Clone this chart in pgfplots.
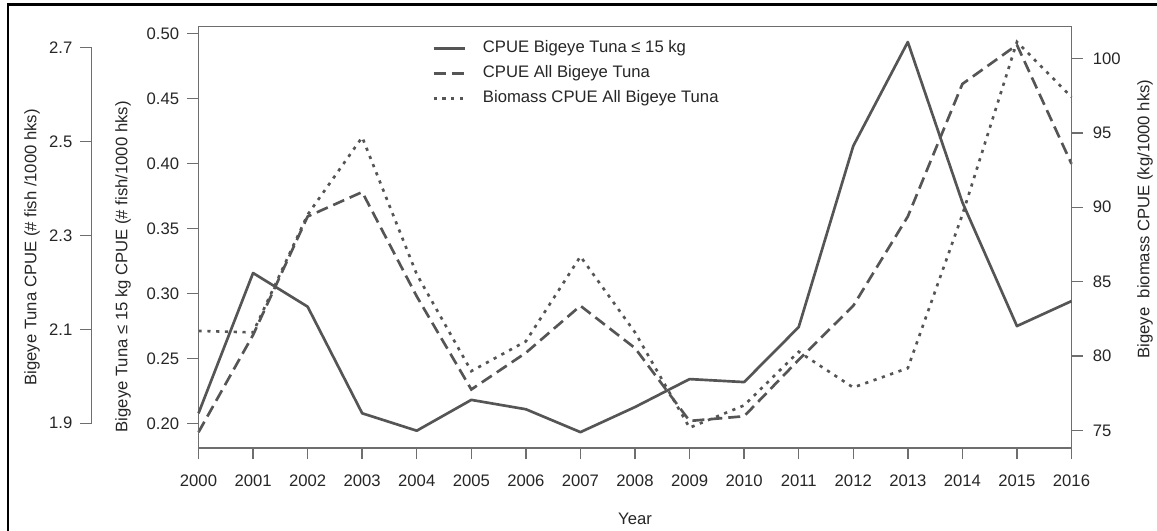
\documentclass[border=0pt]{standalone}
\usepackage{fontspec}
\setmainfont{Liberation Sans}
\usepackage{pgfplots}
\pgfplotsset{compat=1.18}
\definecolor{ln}{HTML}{555555}
\definecolor{ax}{HTML}{6E6E6E}
\definecolor{tx}{HTML}{262626}

\pgfplotstableread{
year small all biomass
2000 0.2077 1.881 81.7
2001 0.3156 2.088 81.6
2002 0.2897 2.340 89.5
2003 0.2077 2.392 94.7
2004 0.1943 2.170 85.5
2005 0.2180 1.972 79.0
2006 0.2108 2.050 81.0
2007 0.1932 2.150 86.7
2008 0.2125 2.060 81.6
2009 0.2340 1.905 75.2
2010 0.2317 1.915 76.7
2011 0.2740 2.035 80.3
2012 0.4133 2.150 77.9
2013 0.4933 2.340 79.2
2014 0.3700 2.622 89.5
2015 0.2748 2.705 101.1
2016 0.2940 2.452 97.4
}\datatable

\pgfplotsset{
  base/.style={
    scale only axis,
    width=654.75pt, height=315.975pt,
    at={(148.875pt,62.25pt)}, anchor=south west,
    xmin=2000, xmax=2016,
    tick align=outside,
    major tick length=8.5pt,
    axis line style={ax, line width=1.1pt},
    every tick/.style={ax, line width=1.1pt},
    ticklabel style={font=\fontsize{12.5}{15}\selectfont, text=tx},
    label style={font=\fontsize{12.5}{15}\selectfont, text=tx},
    /pgf/number format/assume math mode=true,
    clip=false,
  },
  solidl/.style={ln, line width=2pt, line join=round},
  dashedl/.style={ln, line width=2pt, dash pattern=on 9pt off 4.5pt},
  dottedl/.style={ln, line width=2pt, dash pattern=on 2.4pt off 4.2pt},
}

\begin{document}
\begin{tikzpicture}
\useasboundingbox (0,0) rectangle (867.75pt,398.25pt);
\draw[line width=1.7pt, black] (6.2pt,0pt) -- (6.2pt,394.9pt) -- (867.75pt,394.9pt);

% outer left axis (all bigeye, scale only)
\begin{axis}[
  scale only axis, width=10pt, height=282pt,
  at={(68.78pt,80.8pt)}, anchor=south west,
  xmin=0, xmax=1, ymin=1.9, ymax=2.7,
  axis y line*=left, axis x line=none,
  tick align=outside, major tick length=8.5pt,
  axis line style={ax, line width=1.1pt},
  every tick/.style={ax, line width=1.1pt},
  ticklabel style={font=\fontsize{12.5}{15}\selectfont, text=tx},
  yticklabel style={xshift=-2.5pt},
  /pgf/number format/assume math mode=true,
  ytick={1.9,2.1,2.3,2.5,2.7},
  yticklabels={1.9,2.1,2.3,2.5,2.7},
  ylabel={Bigeye Tuna CPUE (\# fish /1000 hks)},
  ylabel style={font=\fontsize{12.5}{15}\selectfont, text=tx, at={(axis description cs:-4.48,0.468)}, anchor=center},
]
\end{axis}

% dashed series in the main box with the outer axis scale
\begin{axis}[base, ymin=1.84745, ymax=2.74383, hide axis]
\addplot[dashedl] table[x=year, y=all] {\datatable};
\end{axis}

% right axis with biomass
\begin{axis}[base, ymin=73.839, ymax=102.121,
  axis y line*=right, axis x line=none,
  ytick={75,80,85,90,95,100},
  yticklabel style={xshift=4pt},
  ylabel={Bigeye\ \ biomass CPUE (kg/1000 hks)},
  ylabel style={at={(axis description cs:1.0842,0.5435)}, anchor=center},
]
\addplot[dottedl] table[x=year, y=biomass] {\datatable};
\end{axis}

% main axis: inner left, box, x axis, solid line, legend
\begin{axis}[base, ymin=0.181, ymax=0.50508,
  xtick={2000,2001,...,2016},
  xticklabel style={/pgf/number format/1000 sep=, yshift=-8pt},
  yticklabel style={xshift=-2.5pt},
  xtick pos=bottom, ytick pos=left,
  ytick={0.20,0.25,0.30,0.35,0.40,0.45,0.50},
  yticklabels={0.20,0.25,0.30,0.35,0.40,0.45,0.50},
  xlabel={Year},
  xlabel style={at={(axis description cs:0.5,-0.168)}, anchor=center, inner sep=0pt},
  ylabel={Bigeye Tuna ≤ 15 kg CPUE (\# fish/1000 hks)},
  ylabel style={at={(axis description cs:-0.0865,0.43)}, anchor=center},
  legend style={at={(axis description cs:0.2675,0.9685)}, anchor=north west,
    draw=none, fill=none, inner sep=0pt, column sep=12.75pt, row sep=6.75pt,
    font=\fontsize{12.5}{15}\selectfont, text=tx,
    nodes={inner sep=0pt, text height=9pt, text depth=3pt}},
  legend cell align=left,
  legend image code/.code={\draw[#1] (0pt,0pt) -- (23.25pt,0pt);},
]
\addplot[solidl] table[x=year, y=small] {\datatable};
\addlegendentry{CPUE Bigeye Tuna ≤ 15 kg}
\addlegendimage{dashedl}
\addlegendentry{CPUE All Bigeye Tuna}
\addlegendimage{dottedl}
\addlegendentry{Biomass CPUE All Bigeye Tuna}
\end{axis}
\end{tikzpicture}
\end{document}
